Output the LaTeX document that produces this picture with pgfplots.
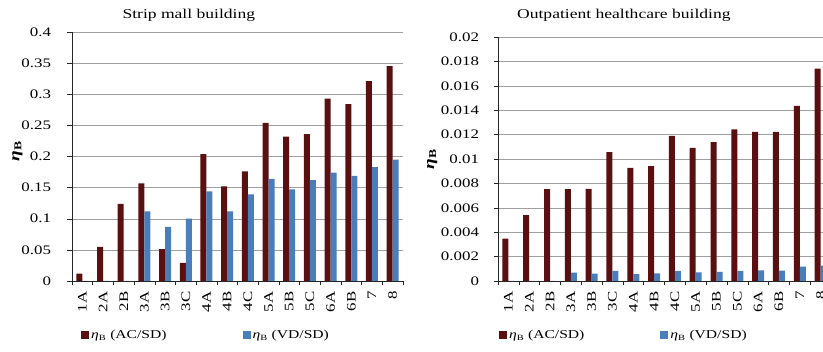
\documentclass[border=0pt]{standalone}
\usepackage{fontspec}
\setmainfont{Liberation Serif}[FakeStretch=1.3]
\usepackage{pgfplots}
\pgfplotsset{compat=1.18}
\definecolor{acsd}{HTML}{5A1010}
\definecolor{vdsd}{HTML}{4A7EBB}
\definecolor{gridc}{HTML}{A0A0A0}
\newcommand{\etaB}{\textit{η}\textsubscript{B}}
\pgfplotsset{myaxis/.style={
  scale only axis,
  anchor=south west,
  clip mode=individual,
  ybar=0pt, bar width=6pt,
  legend image code/.code={\fill[##1] (0pt,-4pt) rectangle (8pt,4pt);},
  xmin=-0.5, xmax=15.5, ymin=0,
  xtick={-0.5,0.5,...,15.5}, xticklabels={},
  extra x ticks={0,...,15},
  extra x tick labels={1A,2A,2B,3A,3B,3C,4A,4B,4C,5A,5B,5C,6A,6B,7,8},
  extra x tick style={major tick length=0pt,
    xticklabel style={yshift=-7pt, rotate=90, anchor=east, font=\fontsize{13}{15}\selectfont}},
  axis x line*=bottom, axis y line*=left,
  axis line style={black!85, -},
  tick align=outside, major tick length=4.5pt,
  tick style={black!85, thin},
  ymajorgrids, grid style={gridc, thin},
  scaled y ticks=false,
  yticklabel style={/pgf/number format/fixed, /pgf/number format/precision=3,
    /pgf/number format/assume math mode=true, font=\fontsize{13}{15}\selectfont},
  legend columns=2,
  legend style={draw=none, fill=none, font=\fontsize{12}{14}\selectfont, anchor=center,
    /tikz/every even column/.append style={column sep=74pt}},
  ylabel style={anchor=center, font=\fontsize{15}{17}\selectfont\bfseries},
}}
\begin{document}
\begin{tikzpicture}
\path[use as bounding box] (0,0) rectangle (823pt,352pt);
\begin{axis}[myaxis, at={(72pt,71pt)}, width=331pt, height=249pt,
  ymax=0.4, ytick={0,0.05,0.1,0.15,0.2,0.25,0.3,0.35,0.4},
  yticklabel style={xshift=-13pt},
  ylabel={\etaB}, ylabel style={at={(axis description cs:-0.165,0.52)}},
  legend style={at={(axis description cs:0.405,-0.217)}}]
\addplot[fill=acsd, draw=none] coordinates {(0,0.012) (1,0.055) (2,0.124) (3,0.157) (4,0.051) (5,0.029) (6,0.204) (7,0.152) (8,0.176) (9,0.254) (10,0.232) (11,0.236) (12,0.293) (13,0.284) (14,0.321) (15,0.345)};
\addplot[fill=vdsd, draw=none] coordinates {(0,0) (1,0) (2,0) (3,0.112) (4,0.087) (5,0.100) (6,0.144) (7,0.112) (8,0.139) (9,0.164) (10,0.147) (11,0.162) (12,0.174) (13,0.169) (14,0.183) (15,0.195)};
\legend{\etaB\ (AC/SD), \etaB\ (VD/SD)}
\node[anchor=center, font=\fontsize{13.5}{16}\selectfont] at (axis description cs:0.353,1.068) {Strip mall building};
\end{axis}
\begin{axis}[myaxis, at={(498pt,71pt)}, width=333pt, height=244pt,
  ymax=0.02, ytick={0,0.002,0.004,0.006,0.008,0.01,0.012,0.014,0.016,0.018,0.02},
  yticklabel style={xshift=-11pt},
  ylabel={\etaB}, ylabel style={at={(axis description cs:-0.198,0.50)}},
  legend style={at={(axis description cs:0.378,-0.221)}}]
\addplot[fill=acsd, draw=none] coordinates {(0,0.00347) (1,0.00539) (2,0.00752) (3,0.00752) (4,0.00755) (5,0.01056) (6,0.00927) (7,0.00941) (8,0.0119) (9,0.01092) (10,0.01138) (11,0.01242) (12,0.01223) (13,0.01223) (14,0.01436) (15,0.0174)};
\addplot[fill=vdsd, draw=none] coordinates {(0,0) (1,0) (2,0) (3,0.00068) (4,0.0006) (5,0.00082) (6,0.00057) (7,0.00063) (8,0.00082) (9,0.00071) (10,0.00074) (11,0.00082) (12,0.00088) (13,0.00085) (14,0.00118) (15,0.00126)};
\legend{\etaB\ (AC/SD), \etaB\ (VD/SD)}
\node[anchor=center, font=\fontsize{13.5}{16}\selectfont] at (axis description cs:0.378,1.09) {Outpatient healthcare building};
\end{axis}
\end{tikzpicture}
\end{document}
